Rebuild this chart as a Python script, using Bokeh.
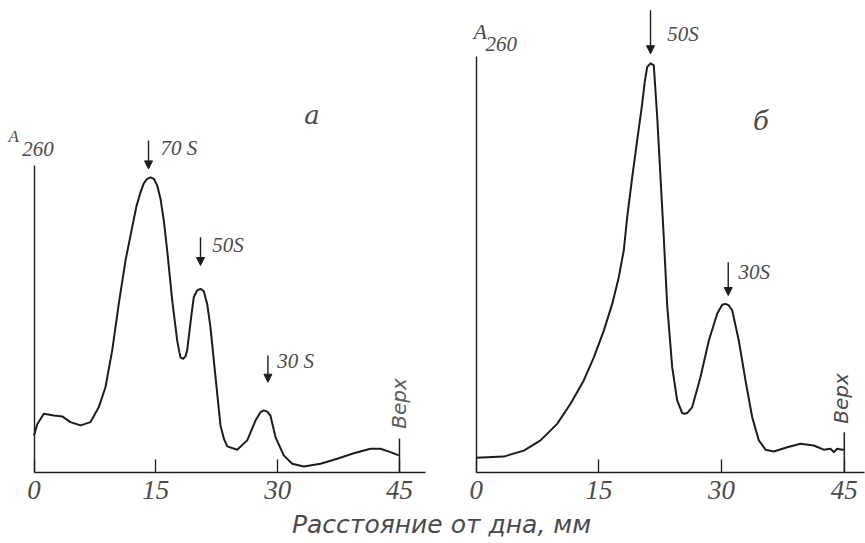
import numpy as np
from bokeh.plotting import figure
from bokeh.models import Range1d, LinearAxis, FixedTicker, Arrow, NormalHead, ColumnDataSource
from bokeh.core.properties import value
from bokeh.embed import file_html
from bokeh.resources import INLINE

# ---------------- data ----------------
# panel "а": distance from bottom (mm) vs A260 (arbitrary units)
a_mm = [0.0, 0.4, 1.21, 2.44, 3.47, 4.49, 5.73, 6.96, 7.98, 8.80, 9.63, 10.44, 11.27,
        12.09, 12.6, 13.11, 13.52, 13.93, 14.34, 14.75, 15.17, 15.58, 16.0, 16.40, 17.02,
        17.63, 17.9, 18.04, 18.37, 18.65, 18.86, 19.35, 19.67, 20.09, 20.50, 20.91, 21.32,
        21.73, 22.35, 22.96, 23.4, 23.79, 25.02, 26.25, 27.27, 27.89, 28.29, 28.71, 29.11,
        29.73, 30.75, 31.79, 33.22, 35.28, 37.33, 39.37, 41.43, 42.66, 43.89, 44.91]
a_abs = [0.122, 0.16, 0.195, 0.189, 0.186, 0.167, 0.156, 0.167, 0.217, 0.283, 0.406, 0.562,
         0.706, 0.817, 0.885, 0.933, 0.963, 0.978, 0.983, 0.978, 0.956, 0.911, 0.835, 0.739,
         0.572, 0.439, 0.40, 0.383, 0.378, 0.386, 0.406, 0.517, 0.583, 0.606, 0.611, 0.603,
         0.561, 0.483, 0.317, 0.156, 0.11, 0.086, 0.075, 0.106, 0.172, 0.200, 0.206, 0.202,
         0.189, 0.117, 0.056, 0.028, 0.019, 0.028, 0.045, 0.063, 0.078, 0.078, 0.067, 0.056]

# panel "б"
b_mm = [0.0, 3.37, 5.82, 7.86, 9.90, 11.53, 13.15, 14.38, 15.60, 16.63, 17.43, 18.04,
        18.46, 19.07, 19.68, 20.29, 20.6, 20.90, 21.31, 21.71, 22.13, 22.53, 22.93, 23.35,
        23.96, 24.57, 25.18, 25.46, 25.79, 26.41, 27.42, 28.44, 29.46, 30.07, 30.48, 30.88,
        31.30, 32.10, 32.92, 33.74, 34.55, 35.37, 36.38, 38.02, 39.65, 41.27, 42.49, 43.31,
        43.72, 44.13, 44.74, 44.94]
b_abs = [0.048, 0.052, 0.072, 0.106, 0.161, 0.228, 0.306, 0.383, 0.472, 0.561, 0.650, 0.739,
         0.850, 0.983, 1.106, 1.228, 1.30, 1.350, 1.363, 1.356, 1.183, 0.983, 0.783, 0.556,
         0.350, 0.239, 0.197, 0.195, 0.197, 0.217, 0.317, 0.439, 0.528, 0.558, 0.561, 0.556,
         0.539, 0.439, 0.306, 0.183, 0.106, 0.075, 0.069, 0.083, 0.095, 0.089, 0.075, 0.078,
         0.067, 0.078, 0.075, 0.076]

x_ticks = [0, 15, 30, 45]
x_tick_labels = {0: "0", 15: "15", 30: "30", 45: "45"}

# sedimentation peaks (arrow x, arrow top, arrow tip, label x, label y)
a_peak_text = ["70 S", "50S", "30 S"]
a_peak_mm = [14.1, 20.5, 28.8]
a_arrow_top = [1.106, 0.783, 0.389]
a_arrow_tip = [1.011, 0.689, 0.300]
a_label_mm = [15.58, 21.94, 29.94]
a_label_y = [1.079, 0.756, 0.369]

b_peak_text = ["50S", "30S"]
b_peak_mm = [21.31, 30.81]
b_arrow_top = [1.540, 0.700]
b_arrow_tip = [1.395, 0.589]
b_label_mm = [23.35, 32.07]
b_label_y = [1.462, 0.667]

# "Верх" (top of tube) markers
top_text = "Верх"
a_top_mm, a_top_level, a_top_text_y = 45.0, 0.112, 0.229
b_top_mm, b_top_level, b_top_text_y = 45.0, 0.133, 0.246

a_ymax, b_ymax = 1.022, 1.386
a_xmax, b_xmax = 48.2, 47.5

panel_names = ["а", "б"]
y_label_main, y_label_sub = "A", "260"
x_title = "Расстояние от дна, мм"

# ---------------- figure ----------------
W, H = 865, 543
INK = "#1c1c1c"
TXT = "#4a4a4a"
NARROW = value("Liberation Sans Narrow")

p = figure(width=W, height=H, min_border=0, min_border_left=0, min_border_right=0,
           min_border_top=0, min_border_bottom=0,
           x_axis_location=None, y_axis_location=None,
           toolbar_location=None, output_backend="svg",
           x_range=Range1d(-4.125, 102.38), y_range=Range1d(-0.2377, 1.5723))
p.extra_x_ranges = {"b": Range1d(-58.15, 47.59)}
p.outline_line_color = None
p.background_fill_color = "white"
p.border_fill_color = "white"
for g in p.grid:
    g.visible = False


def x_axis(rng, bnd):
    ax = LinearAxis(x_range_name=rng, ticker=FixedTicker(ticks=x_ticks),
                    fixed_location=0, bounds=(0, bnd),
                    major_label_overrides=x_tick_labels,
                    major_tick_in=13, major_tick_out=0,
                    minor_tick_in=0, minor_tick_out=0,
                    axis_line_color=INK, axis_line_width=1.6,
                    major_tick_line_color=INK, major_tick_line_width=1.3,
                    major_label_standoff=9,
                    major_label_text_font="Liberation Sans Narrow",
                    major_label_text_font_style="italic",
                    major_label_text_font_size="27px",
                    major_label_text_color=TXT)
    p.add_layout(ax, "below")


def y_axis(rng, bnd):
    ax = LinearAxis(x_range_name=rng, ticker=FixedTicker(ticks=[]),
                    fixed_location=0, bounds=(0, bnd),
                    major_tick_in=0, major_tick_out=0,
                    minor_tick_in=0, minor_tick_out=0,
                    major_label_text_font_size="0px",
                    axis_line_color=INK, axis_line_width=1.4)
    p.add_layout(ax, "left")


x_axis("default", a_xmax)
x_axis("b", b_xmax)
y_axis("default", a_ymax)
y_axis("b", b_ymax)

# curves
p.line(a_mm, a_abs, line_color=INK, line_width=2.0, line_join="round")
p.line(b_mm, b_abs, line_color=INK, line_width=2.0, line_join="round", x_range_name="b")

# "Верх" markers
p.segment(x0=[a_top_mm], y0=[0], x1=[a_top_mm], y1=[a_top_level], line_color=INK, line_width=1.5)
p.segment(x0=[b_top_mm], y0=[0], x1=[b_top_mm], y1=[b_top_level], line_color=INK, line_width=1.5,
          x_range_name="b")
p.text(x=[a_top_mm], y=[a_top_text_y], text=[top_text], angle=np.pi / 2,
       text_font=value("DejaVu Sans"), text_font_style="italic", text_font_size="20px",
       text_align="center", text_baseline="middle", text_color="#5a5a5a")
p.text(x=[b_top_mm], y=[b_top_text_y], text=[top_text], angle=np.pi / 2, x_offset=-3,
       text_font=value("DejaVu Sans"), text_font_style="italic", text_font_size="20px",
       text_align="center", text_baseline="middle", text_color="#4a4a4a", x_range_name="b")

# arrows and peak labels
head = dict(size=8, fill_color=INK, line_color=INK, line_width=1)
p.add_layout(Arrow(end=NormalHead(**head), line_color=INK, line_width=1.4,
                   source=ColumnDataSource(dict(x=a_peak_mm, y0=a_arrow_top, y1=a_arrow_tip)),
                   x_start="x", y_start="y0", x_end="x", y_end="y1"))
p.add_layout(Arrow(end=NormalHead(**head), line_color=INK, line_width=1.4, x_range_name="b",
                   source=ColumnDataSource(dict(x=b_peak_mm, y0=b_arrow_top, y1=b_arrow_tip)),
                   x_start="x", y_start="y0", x_end="x", y_end="y1"))
p.text(x=a_label_mm, y=a_label_y, text=a_peak_text, text_font=NARROW, text_font_style="italic",
       text_font_size="21px", text_align="left", text_baseline="middle", text_color=TXT)
p.text(x=b_label_mm, y=b_label_y, text=b_peak_text, text_font=NARROW, text_font_style="italic",
       text_font_size="21px", text_align="left", text_baseline="middle", text_color=TXT,
       x_range_name="b")

# y labels A260
p.text(x=[-3.14], y=[1.119], text=[y_label_main], text_font=NARROW, text_font_style="italic",
       text_font_size="17px", text_align="left", text_baseline="middle", text_color=TXT)
p.text(x=[-1.45], y=[1.076], text=[y_label_sub], text_font=NARROW, text_font_style="italic",
       text_font_size="21px", text_align="left", text_baseline="middle", text_color=TXT)
p.text(x=[-0.33], y=[1.469], text=[y_label_main], text_font=NARROW, text_font_style="italic",
       text_font_size="22px", text_align="left", text_baseline="middle", text_color=TXT,
       x_range_name="b")
p.text(x=[1.14], y=[1.426], text=[y_label_sub], text_font=NARROW, text_font_style="italic",
       text_font_size="21px", text_align="left", text_baseline="middle", text_color=TXT,
       x_range_name="b")

# panel letters
p.text(x=[34.23], y=[1.189], text=[panel_names[0]], text_font=value("DejaVu Serif"),
       text_font_style="italic", text_font_size="26px", text_align="center",
       text_baseline="middle", text_color=TXT)
p.text(x=[34.82], y=[1.172], text=[panel_names[1]], text_font=value("DejaVu Serif"),
       text_font_style="italic", text_font_size="26px", text_align="center",
       text_baseline="middle", text_color=TXT, x_range_name="b")

# x title spanning both panels
p.text(x=[50.17], y=[-0.176], text=[x_title], text_font=value("DejaVu Sans"),
       text_font_style="italic", text_font_size="25px", text_align="center",
       text_baseline="middle", text_color=TXT)

open("out.html", "w").write(file_html(p, INLINE))
